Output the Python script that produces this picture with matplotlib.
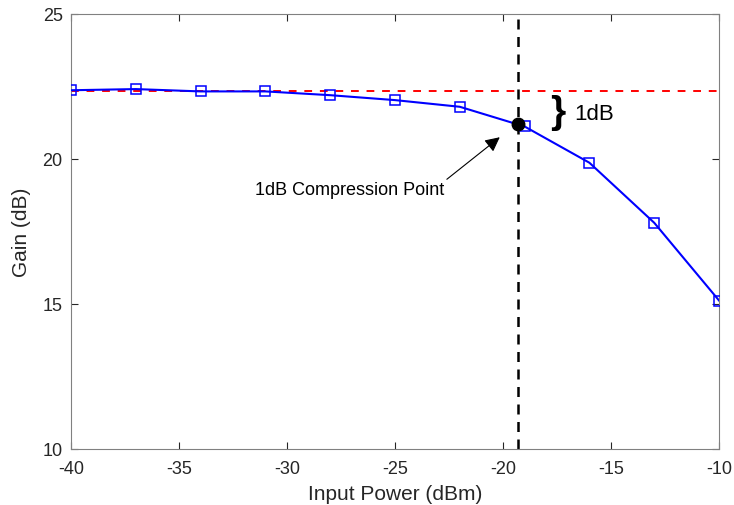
import matplotlib
matplotlib.use("Agg")
import matplotlib.pyplot as plt

plt.rcParams['font.family'] = ['Liberation Sans', 'DejaVu Sans']
plt.rcParams['axes.unicode_minus'] = False

# measured gain vs. input power
p_in = [-40, -37, -34, -31, -28, -25, -22, -19, -16, -13, -10]
gain = [22.37, 22.41, 22.33, 22.33, 22.2, 22.03, 21.8, 21.12, 19.87, 17.8, 15.12]

small_signal_gain = 22.35
p1db_x = -19.3
p1db_y = 21.2

fig = plt.figure(figsize=(7.34, 5.06), dpi=100)
ax = fig.add_axes([0.0967, 0.1107, 0.8829, 0.8597])

ax.axhline(small_signal_gain, color='#ff0000', ls=(0, (4, 4)), lw=1.4, zorder=2)
ax.axvline(p1db_x, color='black', ls=(0, (4, 3)), lw=1.8, zorder=2)
ax.plot(p_in, gain, color='#0000ff', lw=1.5, marker='s', ms=7,
        mfc='none', mec='#0000ff', mew=1.1, zorder=3)
ax.plot([p1db_x], [p1db_y], 'o', color='black', ms=9, zorder=4)

# annotation arrow + label
ax.annotate('', xy=(-20.15, 20.75), xytext=(-22.6, 19.3),
            arrowprops=dict(arrowstyle='-|>', color='black', lw=0.8,
                            mutation_scale=22, shrinkA=0, shrinkB=0))
ax.text(-22.7, 18.95, '1dB Compression Point', fontsize=13,
        ha='right', va='center')
ax.text(-17.45, 21.62, '}', fontsize=28, ha='center', va='center',
        fontweight='bold')
ax.text(-16.7, 21.58, '1dB', fontsize=16, ha='left', va='center')

ax.set_xlim(-40, -10)
ax.set_ylim(10, 25)
ax.set_xticks(range(-40, -9, 5))
ax.set_yticks(range(10, 26, 5))
ax.tick_params(direction='in', top=True, right=True, labelsize=13,
               colors='#262626', length=5, width=0.8, pad=6)
ax.tick_params(axis='x', pad=8)
for s in ax.spines.values():
    s.set_color('#808080')
ax.set_xlabel('Input Power (dBm)', fontsize=15, color='#262626', labelpad=5)
ax.set_ylabel('Gain (dB)', fontsize=15, color='#262626', labelpad=8)

fig.savefig('out.png', dpi=100)
